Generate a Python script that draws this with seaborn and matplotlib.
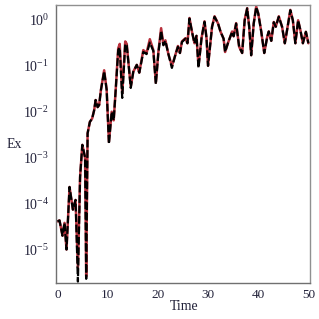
import numpy as np
import matplotlib
matplotlib.use('Agg')
import matplotlib.pyplot as plt
import seaborn as sns
from matplotlib.ticker import LogLocator, MultipleLocator, NullFormatter

# Données (Time, Ex)
time = [0.0, 0.4, 1.0, 1.4, 1.8, 2.4, 3.07, 3.6, 4.07, 4.5,
        4.95, 5.5, 5.72, 6.0, 6.45, 6.9, 7.3, 7.6, 8.0, 8.3,
        8.65, 9.3, 9.8, 10.25, 10.8, 11.2, 11.6, 12.1, 12.4, 12.9,
        13.5, 13.8, 14.1, 14.6, 15.1, 15.8, 16.3, 17.1, 17.75, 18.4,
        19.1, 19.6, 20.1, 20.65, 21.1, 21.5, 22.1, 22.8, 23.4, 24.0,
        24.4, 24.8, 25.5, 25.9, 26.3, 26.8, 27.3, 27.7, 28.1, 28.7,
        29.3, 29.7, 30.0, 30.8, 31.3, 32.0, 32.5, 33.1, 33.4, 34.0,
        34.8, 35.1, 35.6, 36.2, 36.8, 37.3, 37.8, 38.2, 38.6, 39.1,
        39.6, 40.0, 40.6, 41.2, 41.8, 42.1, 42.6, 43.1, 43.5, 44.1,
        44.75, 45.3, 45.75, 46.4, 46.9, 47.4, 47.95, 48.4, 48.9, 49.5,
        50.0]

ex_red = [4.1e-5, 4.3e-5, 2.0e-5, 3.8e-5, 1.0e-5, 2.3e-4, 7.4e-5, 1.2e-4, 4.0e-6, 3.8e-4,
          1.9e-3, 1.0e-3, 2.6e-6, 3.4e-3, 6.0e-3, 7.1e-3, 1.07e-2, 1.8e-2, 1.26e-2, 1.4e-2,
          2.95e-2, 8.0e-2, 3.0e-2, 2.2e-3, 1.0e-2, 6.5e-3, 3.0e-2, 0.24, 0.30, 0.025,
          0.34, 0.30, 0.13, 0.035, 0.074, 0.105, 0.071, 0.22, 0.19, 0.38,
          0.22, 0.043, 0.20, 0.66, 0.29, 0.36, 0.18, 0.10, 0.16, 0.27,
          0.19, 0.34, 0.40, 0.31, 1.1, 0.55, 0.31, 0.45, 0.10, 0.40,
          0.93, 0.40, 0.10, 0.71, 1.2, 0.83, 0.55, 0.39, 0.20, 0.32,
          0.56, 0.44, 0.85, 0.26, 0.19, 1.0, 1.8, 0.71, 0.17, 0.84,
          1.95, 1.4, 0.56, 0.19, 0.43, 0.56, 0.35, 0.90, 0.71, 1.2,
          0.71, 0.31, 0.60, 1.65, 0.98, 0.31, 0.98, 0.60, 0.31, 0.55,
          0.31]

ex_black = [4.1e-5, 4.3e-5, 2.0e-5, 3.8e-5, 1.0e-5, 2.3e-4, 7.4e-5, 1.2e-4, 2.0e-6, 3.8e-4,
            1.9e-3, 1.0e-3, 2.3e-6, 3.4e-3, 6.0e-3, 7.1e-3, 1.07e-2, 1.8e-2, 1.26e-2, 1.4e-2,
            2.95e-2, 7.6e-2, 3.0e-2, 2.0e-3, 1.0e-2, 6.5e-3, 3.0e-2, 0.22, 0.25, 0.02,
            0.30, 0.28, 0.13, 0.033, 0.074, 0.105, 0.071, 0.20, 0.18, 0.32,
            0.21, 0.040, 0.19, 0.58, 0.28, 0.35, 0.18, 0.09, 0.16, 0.26,
            0.19, 0.33, 0.39, 0.31, 1.07, 0.55, 0.31, 0.45, 0.09, 0.40,
            0.91, 0.40, 0.10, 0.71, 1.17, 0.83, 0.55, 0.39, 0.20, 0.32,
            0.55, 0.44, 0.83, 0.26, 0.19, 0.98, 1.78, 0.71, 0.17, 0.83,
            1.9, 1.38, 0.56, 0.19, 0.43, 0.56, 0.35, 0.89, 0.71, 1.17,
            0.71, 0.31, 0.60, 1.62, 0.98, 0.31, 0.98, 0.60, 0.31, 0.55,
            0.31]

sns.set_theme(style='white')
plt.rcParams['font.family'] = ['Liberation Serif', 'DejaVu Serif']
plt.rcParams['mathtext.fontset'] = 'stix'

text_col = '#22223a'
fig = plt.figure(figsize=(3.19, 3.19), dpi=100)
ax = fig.add_axes([0.1755, 0.114, 0.796, 0.870])

sns.lineplot(x=time, y=ex_red, color='#b8303c', linewidth=1.8, ax=ax, sort=False)
sns.lineplot(x=time, y=ex_black, color='black', linewidth=1.6, ax=ax, sort=False,
             linestyle=(0, (3.5, 1.2)))

ax.set_yscale('log')
ax.set_xlim(-0.3, 50.3)
ax.set_ylim(1.9e-6, 2.1)

ax.xaxis.set_major_locator(MultipleLocator(10))
ax.xaxis.set_minor_locator(MultipleLocator(5))
ax.yaxis.set_major_locator(LogLocator(base=10, numticks=20))
ax.yaxis.set_minor_locator(LogLocator(base=10, subs=np.arange(2, 10), numticks=20))
ax.yaxis.set_minor_formatter(NullFormatter())

ax.tick_params(axis='both', which='both', direction='out', colors='#555555',
               labelcolor=text_col, labelsize=9.5, width=0.8)
ax.tick_params(axis='both', which='major', length=3)
ax.tick_params(axis='both', which='minor', length=2)
ax.tick_params(axis='x', which='major', pad=1.5)
ax.tick_params(axis='y', which='major', labelsize=10, pad=2)

for side in ['left', 'bottom']:
    ax.spines[side].set_color('#707070')
    ax.spines[side].set_linewidth(1.0)
for side in ['top', 'right']:
    ax.spines[side].set_color('#909090')
    ax.spines[side].set_linewidth(1.0)

ax.set_xlabel('Time', fontsize=10, color=text_col, va='center')
ax.set_ylabel('Ex', fontsize=10, color=text_col, rotation=0, ha='center', va='center')
ax.xaxis.set_label_coords(0.504, -0.086)
ax.yaxis.set_label_coords(-0.163, 0.496)

fig.savefig('out.png', dpi=100)
